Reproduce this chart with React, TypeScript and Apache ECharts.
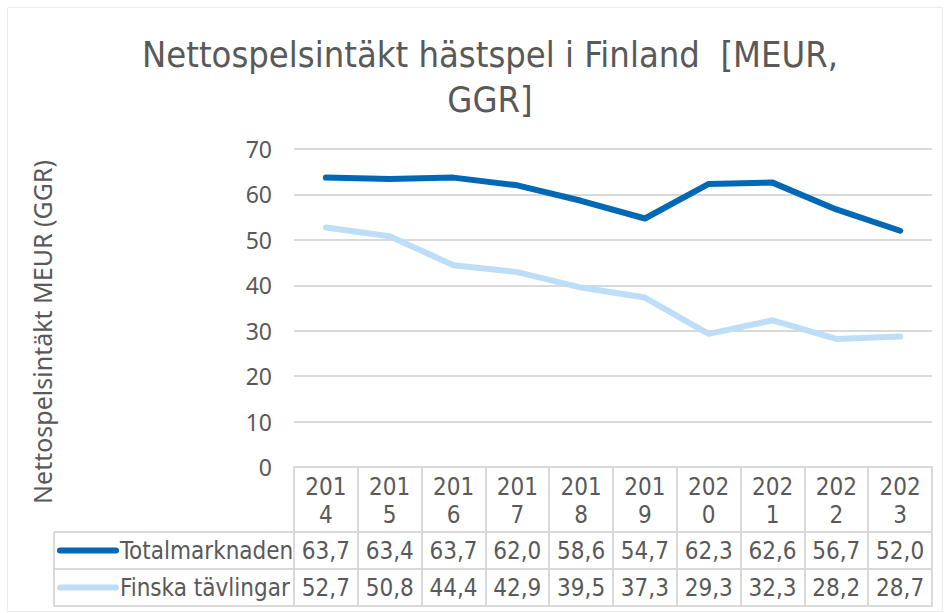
import React, { useEffect, useRef } from "react";
import * as echarts from "echarts";

const years = ["2014", "2015", "2016", "2017", "2018", "2019", "2020", "2021", "2022", "2023"];
const totalmarknaden = [63.7, 63.4, 63.7, 62.0, 58.6, 54.7, 62.3, 62.6, 56.7, 52.0];
const finskaTavlingar = [52.7, 50.8, 44.4, 42.9, 39.5, 37.3, 29.3, 32.3, 28.2, 28.7];
const seriesNames = ["Totalmarknaden", "Finska tävlingar"];
const yTicks = { min: 0, max: 70, interval: 10 };
const titleText = "Nettospelsintäkt hästspel i Finland  [MEUR,\nGGR]";
const yAxisName = "Nettospelsintäkt MEUR (GGR)";

const DARK = "#0068B4";
const LIGHT = "#BDDEF6";
const TXT = "#595959";
const GRIDC = "#D9D9D9";
const NARROW = "'Liberation Sans Narrow', 'DejaVu Sans Condensed', sans-serif";
const WIDE = "'Noto Sans', 'Open Sans', sans-serif";

const fmt = (v: number) => v.toFixed(1).replace(".", ",");

export default function App() {
  const ref = useRef<HTMLDivElement>(null);
  useEffect(() => {
    if (!ref.current) return;
    const chart = echarts.init(ref.current, null, { renderer: "svg" });
    const L = 294, R = 932, T = 149, B = 467;
    const rowTop1 = 532, rowTop2 = 569, rowBot = 606, tableLeft = 54;
    const W = 949, H = 613;
    const valueAxis = (data: string[], offset: number) => ({
      type: "category",
      data,
      position: "bottom",
      offset,
      gridIndex: 0,
      axisLine: { show: false },
      axisTick: { show: false },
      axisLabel: { color: TXT, fontFamily: NARROW, fontSize: 24, lineHeight: 28, margin: 5, interval: 0 },
    });
    chart.setOption({
      animation: false,
      backgroundColor: "#fff",
      title: {
        text: titleText,
        left: 485,
        top: 27,
        textAlign: "center",
        textStyle: { color: TXT, fontFamily: NARROW, fontSize: 36, fontWeight: "normal", lineHeight: 45 },
      },
      grid: { left: L, right: W - R, top: T, bottom: H - B, containLabel: false },
      xAxis: [
        {
          type: "category",
          data: years,
          boundaryGap: true,
          axisLine: { show: true, lineStyle: { color: GRIDC, width: 2 } },
          axisTick: { show: true, interval: 0, length: rowBot - B, lineStyle: { color: GRIDC, width: 2 } },
          axisLabel: {
            color: TXT,
            fontFamily: NARROW,
            fontSize: 24,
            lineHeight: 28,
            margin: 6,
            interval: 0,
            formatter: (v: string) => v.slice(0, 3) + "\n" + v.slice(3),
          },
        },
        valueAxis(totalmarknaden.map(fmt), rowTop1 - B),
        valueAxis(finskaTavlingar.map(fmt), rowTop2 - B),
      ],
      yAxis: {
        type: "value",
        min: yTicks.min,
        max: yTicks.max,
        interval: yTicks.interval,
        axisLine: { show: false },
        axisTick: { show: false },
        axisLabel: { color: TXT, fontFamily: WIDE, fontSize: 23, margin: 22 },
        splitLine: { lineStyle: { color: GRIDC, width: 2 } },
      },
      series: [
        {
          name: seriesNames[0],
          type: "line",
          data: totalmarknaden,
          showSymbol: false,
          lineStyle: { color: DARK, width: 6, cap: "round", join: "round" },
          itemStyle: { color: DARK },
        },
        {
          name: seriesNames[1],
          type: "line",
          data: finskaTavlingar,
          showSymbol: false,
          lineStyle: { color: LIGHT, width: 6, cap: "round", join: "round" },
          itemStyle: { color: LIGHT },
        },
      ],
      graphic: [
        { type: "rect", shape: { x: 7.5, y: 7.5, width: 935, height: 604 }, style: { fill: "none", stroke: "#EDEDED", lineWidth: 1 }, silent: true },
        {
          type: "text",
          x: 42,
          y: 332,
          rotation: Math.PI / 2,
          style: { text: yAxisName, fill: TXT, font: `25px ${WIDE}`, align: "center", verticalAlign: "middle" },
          silent: true,
        },
        ...[rowTop1, rowTop2, rowBot].map((y) => ({
          type: "line",
          shape: { x1: tableLeft, y1: y, x2: R + 1, y2: y },
          style: { stroke: GRIDC, lineWidth: 2 },
          silent: true,
        })),
        { type: "line", shape: { x1: tableLeft, y1: rowTop1, x2: tableLeft, y2: rowBot }, style: { stroke: GRIDC, lineWidth: 2 }, silent: true },
        ...[DARK, LIGHT].map((c, i) => ({
          type: "line",
          shape: { x1: 60, y1: i === 0 ? (rowTop1 + rowTop2) / 2 : (rowTop2 + rowBot) / 2, x2: 116, y2: i === 0 ? (rowTop1 + rowTop2) / 2 : (rowTop2 + rowBot) / 2 },
          style: { stroke: c, lineWidth: 6, lineCap: "round" },
          silent: true,
        })),
        ...seriesNames.map((n, i) => ({
          type: "text",
          x: 120,
          y: i === 0 ? (rowTop1 + rowTop2) / 2 : (rowTop2 + rowBot) / 2,
          style: { text: n, fill: TXT, font: `24px ${NARROW}`, verticalAlign: "middle", align: "left" },
          silent: true,
        })),
      ],
    });
    return () => chart.dispose();
  }, []);
  return <div ref={ref} style={{ position: "fixed", left: 0, top: 0, width: 949, height: 613 }} />;
}
